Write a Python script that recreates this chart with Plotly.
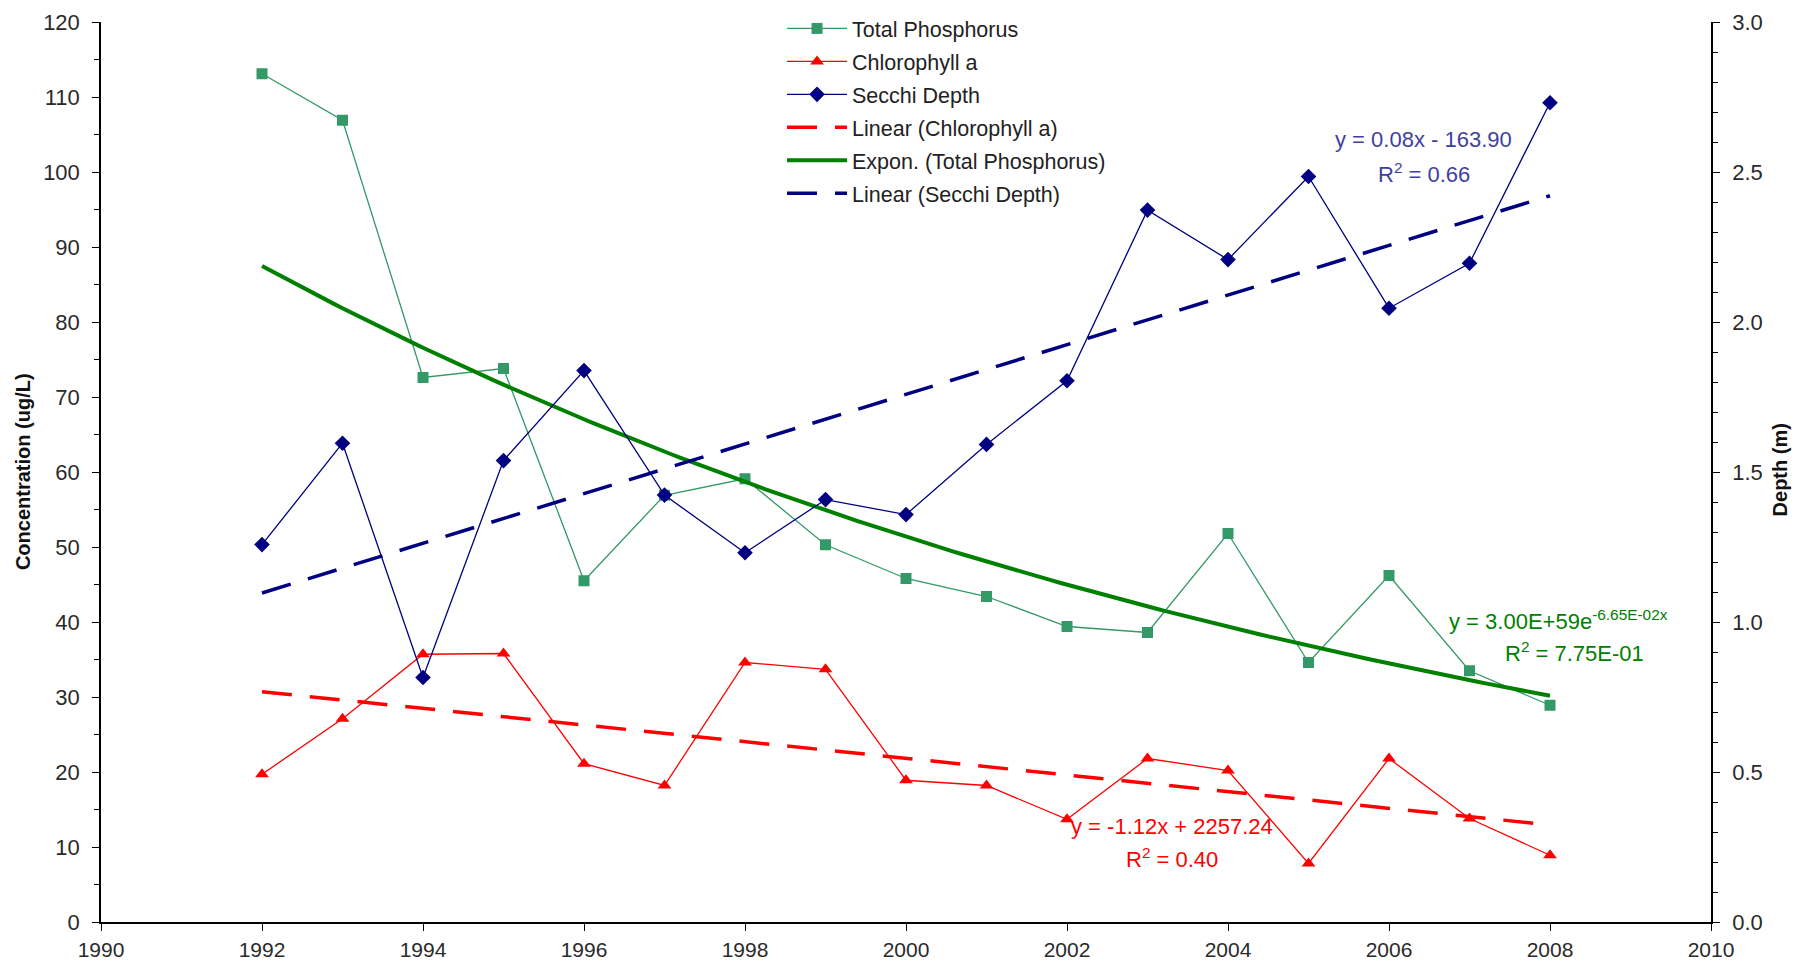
import numpy as np
import plotly.graph_objects as go

years = [1992, 1993, 1994, 1995, 1996, 1997, 1998, 1999, 2000,
         2001, 2002, 2003, 2004, 2005, 2006, 2007, 2008]
total_phosphorus = [113.1, 106.9, 72.6, 73.8, 45.5, 56.9, 59.1, 50.3, 45.8,
                    43.4, 39.4, 38.6, 51.8, 34.6, 46.2, 33.5, 28.9]
chlorophyll_a = [19.7, 27.1, 35.7, 35.8, 21.1, 18.2, 34.6, 33.7, 18.9,
                 18.2, 13.7, 21.8, 20.2, 7.8, 21.8, 13.8, 8.9]
secchi_depth = [1.258, 1.596, 0.815, 1.538, 1.838, 1.423, 1.231, 1.408, 1.358,
                1.592, 1.804, 2.373, 2.208, 2.485, 2.046, 2.196, 2.731]

x_ticks = list(range(1990, 2011, 2))
left_ticks = list(range(0, 121, 10))
right_ticks = [0.0, 0.5, 1.0, 1.5, 2.0, 2.5, 3.0]

C_TP = "#339966"
C_CHL = "#FF0000"
C_SD = "#000080"
C_TP_TREND = "#008000"
C_SD_TEXT = "#3F3F9F"
C_TEXT = "#2a2a2a"

FONT = "Liberation Sans, Arial, sans-serif"
NARROW = "Liberation Sans Narrow, Liberation Sans, Arial, sans-serif"

xa = np.array(years, dtype=float)
# trendlines fitted from the data (as the original spreadsheet did)
chl_fit = np.polyfit(xa, np.array(chlorophyll_a), 1)
sd_fit = np.polyfit(xa, np.array(secchi_depth), 1)
tp_fit = np.polyfit(xa, np.log(np.array(total_phosphorus)), 1)
xs = np.linspace(years[0], years[-1], 161)

fig = go.Figure()
fig.add_trace(go.Scatter(x=years, y=total_phosphorus, name="Total Phosphorus",
                         mode="lines+markers", legendgroup="g1",
                         line=dict(color=C_TP, width=1.3),
                         marker=dict(symbol="square", size=11, color=C_TP)))
fig.add_trace(go.Scatter(x=years, y=chlorophyll_a, name="Chlorophyll a",
                         mode="lines+markers", legendgroup="g2",
                         line=dict(color=C_CHL, width=1.3),
                         marker=dict(symbol="triangle-up", size=12, color=C_CHL)))
fig.add_trace(go.Scatter(x=years, y=secchi_depth, name="Secchi Depth",
                         mode="lines+markers", yaxis="y2", legendgroup="g3",
                         line=dict(color=C_SD, width=1.3),
                         marker=dict(symbol="diamond", size=12, color=C_SD)))
fig.add_trace(go.Scatter(x=xs, y=np.polyval(chl_fit, xs), name="Linear (Chlorophyll a)",
                         mode="lines", legendgroup="g4",
                         line=dict(color=C_CHL, width=3.5, dash="30px,18px")))
fig.add_trace(go.Scatter(x=xs, y=np.exp(np.polyval(tp_fit, xs)), name="Expon. (Total Phosphorus)",
                         mode="lines", legendgroup="g5",
                         line=dict(color=C_TP_TREND, width=4)))
fig.add_trace(go.Scatter(x=xs, y=np.polyval(sd_fit, xs), name="Linear (Secchi Depth)",
                         mode="lines", yaxis="y2", legendgroup="g6",
                         line=dict(color=C_SD, width=3.5, dash="30px,18px")))

ann_font = 22
annotations = [
    dict(x=2006.43, y=104.3, text="y = 0.08x - 163.90", font=dict(color=C_SD_TEXT, size=ann_font)),
    dict(x=2006.43, y=99.9, text="R<sup>2</sup> = 0.66", font=dict(color=C_SD_TEXT, size=ann_font)),
    dict(x=2008.1, y=40.3, text="y = 3.00E+59e<sup>-6.65E-02x</sup>", font=dict(color=C_TP_TREND, size=ann_font)),
    dict(x=2008.3, y=36.0, text="R<sup>2</sup> = 7.75E-01", font=dict(color=C_TP_TREND, size=ann_font)),
    dict(x=2003.3, y=12.76, text="y = -1.12x + 2257.24", font=dict(color=C_CHL, size=ann_font)),
    dict(x=2003.3, y=8.47, text="R<sup>2</sup> = 0.40", font=dict(color=C_CHL, size=ann_font)),
]
for a in annotations:
    a.update(xref="x", yref="y", showarrow=False, xanchor="center", yanchor="middle")
    a["font"]["family"] = FONT

annotations += [
    dict(x=-0.0484, y=0.5, xref="paper", yref="paper", showarrow=False, textangle=-90,
         xanchor="center", yanchor="middle", text="<b>Concentration (ug/L)</b>",
         font=dict(family=NARROW, size=20, color="#111111")),
    dict(x=1.043, y=0.502, xref="paper", yref="paper", showarrow=False, textangle=-90,
         xanchor="center", yanchor="middle", text="<b>Depth (m)</b>",
         font=dict(family=NARROW, size=20, color="#111111")),
]

axis_common = dict(showgrid=False, zeroline=False, showline=True, linecolor="black",
                   linewidth=1.5, ticks="outside", ticklen=7, tickcolor="black",
                   automargin=False)

fig.update_layout(
    width=1807, height=965,
    paper_bgcolor="white", plot_bgcolor="white",
    margin=dict(l=101, r=96, t=22, b=43, autoexpand=False),
    font=dict(family=FONT, size=18, color="#000000"),
    showlegend=True,
    legend=dict(x=0.423, y=1.0156, xanchor="left", yanchor="top",
                bgcolor="rgba(0,0,0,0)", font=dict(size=21.5, color="#222222", family=FONT),
                tracegroupgap=2, itemwidth=60),
    xaxis=dict(range=[1990, 2010], tickvals=x_ticks, ticklabelstandoff=1,
               tickfont=dict(size=21, color=C_TEXT, family=FONT), **axis_common),
    yaxis=dict(range=[0, 120], tickvals=left_ticks, ticklabelstandoff=8,
               tickfont=dict(size=22, color=C_TEXT, family=FONT),
               minor=dict(dtick=5, ticks="outside", ticklen=5, tickcolor="black"),
               **axis_common),
    yaxis2=dict(range=[0, 3], tickvals=right_ticks, ticktext=[f"{v:.1f}" for v in right_ticks],
                overlaying="y", side="right", ticklabelstandoff=8,
                tickfont=dict(size=22, color=C_TEXT, family=FONT),
                minor=dict(dtick=0.1, ticks="outside", ticklen=5, tickcolor="black"),
                **axis_common),
    yaxis3=dict(range=[0, 3], tickvals=right_ticks, overlaying="y", side="right",
                ticks="inside", ticklen=7, tickcolor="black", showticklabels=False,
                showline=False, showgrid=False, zeroline=False, automargin=False),
    annotations=annotations,
)

fig.write_html("out.html", config={"displayModeBar": False},
               post_script="document.body.style.margin='0';document.body.style.overflow='hidden';")
